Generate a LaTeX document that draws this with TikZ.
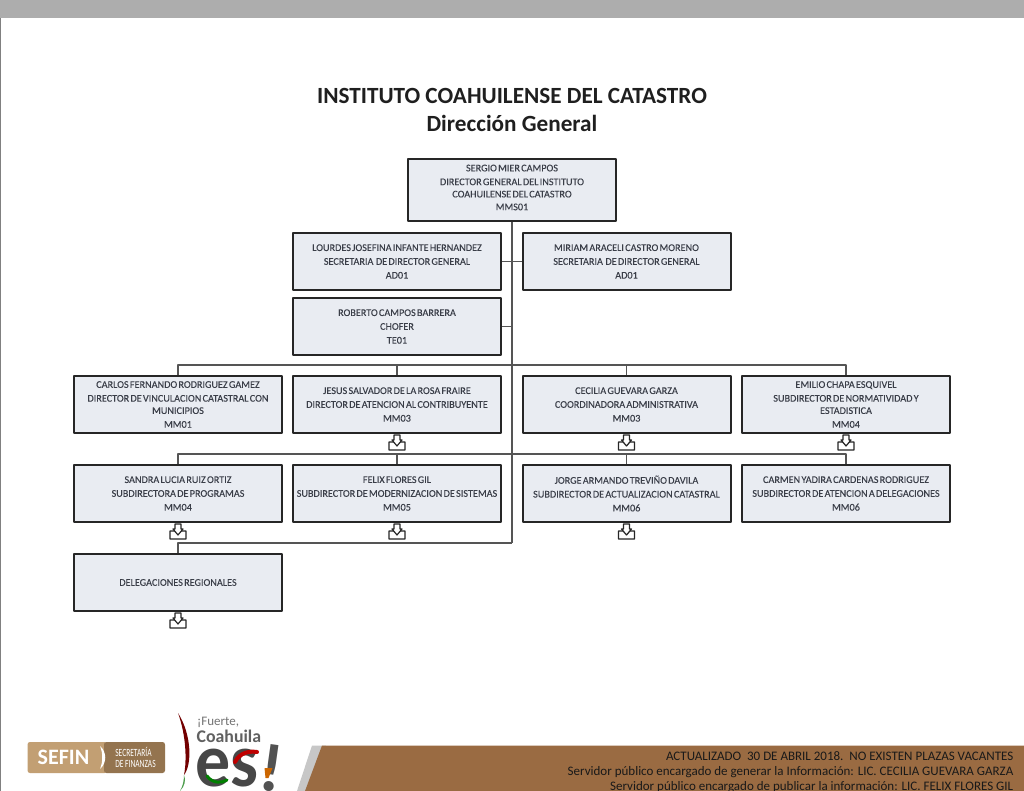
\documentclass[tikz,border=0pt]{standalone}
\usepackage{fontspec}
\setmainfont{Carlito}
\newfontfamily\cajafont[WordSpace=0.55,FakeBold=0.12]{Carlito}
\definecolor{boxfill}{HTML}{E9ECF2}
\definecolor{boxtext}{HTML}{3A3E48}
\definecolor{linegray}{HTML}{555555}
\definecolor{bandbrown}{HTML}{9A6B42}
\definecolor{sefinlight}{HTML}{C29F73}
\definecolor{sefindark}{HTML}{94744F}
\begin{document}
\begin{tikzpicture}[x=1pt,y=1pt,line join=round]
\tikzset{
puesto/.style={draw=black!85,line width=2pt,fill=boxfill,minimum width=208pt,minimum height=57pt,inner sep=0.5pt,text width=206.5pt,align=flush center,text=boxtext,font=\cajafont\fontsize{10.2}{13.8}\selectfont},
conector/.style={draw=linegray,line width=1.4pt},
baja/.pic={
\draw[black!85,line width=1.2pt,fill=white](-8,-7)--(-3,-7)--(0,-10)--(3,-7)--(8,-7)--(8,-15)--(-8,-15)--cycle;
\draw[black!85,line width=1.2pt,fill=white](-3,0)--(3,0)--(3,-5)--(5,-5)--(0,-11)--(-5,-5)--(-3,-5)--cycle;
}}
\useasboundingbox (0,0) rectangle (1024,-791);
% fondo
\fill[white] (0,0) rectangle (1024,-791);
\fill[black!32] (0,0) rectangle (1024,-18);
\draw[black!50,line width=1pt] (0.5,-18)--(0.5,-791);
% titulos
\node[font=\fontsize{23.2}{28.5}\selectfont\bfseries,text=black!88,align=center] (titulo) at (512,-110) {INSTITUTO COAHUILENSE DEL CATASTRO\\Dirección General};
% puestos
\node[puesto,minimum height=62pt] (dir) at (512,-190) {SERGIO MIER CAMPOS\\DIRECTOR GENERAL DEL INSTITUTO\\[-1.5pt]COAHUILENSE DEL CATASTRO\\[-1pt]MMS01\par\vspace{5pt}};
\node[puesto] (sec1) at (397,-261.5) {LOURDES JOSEFINA INFANTE HERNANDEZ\\SECRETARIA\ \ DE DIRECTOR GENERAL\\AD01};
\node[puesto] (sec2) at (626.5,-261.5) {MIRIAM ARACELI CASTRO MORENO\\SECRETARIA\ \ DE DIRECTOR GENERAL\\AD01};
\node[puesto] (chofer) at (397,-326.5) {ROBERTO CAMPOS BARRERA\\CHOFER\\TE01};
\node[puesto] (mm1) at (178,-404.5) {CARLOS FERNANDO RODRIGUEZ GAMEZ\\DIRECTOR DE VINCULACION CATASTRAL CON\\[-1.5pt]MUNICIPIOS\\MM01};
\node[puesto] (mm2) at (397,-404.5) {JESUS SALVADOR DE LA ROSA FRAIRE\\DIRECTOR DE ATENCION AL CONTRIBUYENTE\\MM03};
\node[puesto] (mm3) at (626.5,-404.5) {CECILIA GUEVARA GARZA\\COORDINADORA ADMINISTRATIVA\\MM03};
\node[puesto] (mm4) at (846,-404.5) {EMILIO CHAPA ESQUIVEL\\SUBDIRECTOR DE NORMATIVIDAD Y\\[-1.5pt]ESTADISTICA\\MM04};
\node[puesto] (sub1) at (178,-493.5) {SANDRA LUCIA RUIZ ORTIZ\\SUBDIRECTORA DE PROGRAMAS\\MM04};
\node[puesto] (sub2) at (397,-493.5) {FELIX FLORES GIL\\SUBDIRECTOR DE MODERNIZACION DE SISTEMAS\\MM05};
\node[puesto] (sub3) at (626.5,-493.5) {JORGE ARMANDO TREVIÑO DAVILA\\SUBDIRECTOR DE ACTUALIZACION CATASTRAL\\MM06};
\node[puesto] (sub4) at (846,-493.5) {CARMEN YADIRA CARDENAS RODRIGUEZ\\SUBDIRECTOR DE ATENCION A DELEGACIONES\\MM06};
\node[puesto] (deleg) at (178,-582.5) {DELEGACIONES REGIONALES};
% conectores
\coordinate (busA) at (512,-365);
\coordinate (busB) at (512,-454);
\coordinate (busC) at (512,-543);
\draw[conector] (dir.south)--(busC);
\draw[conector] (sec1.east)--(sec2.west);
\draw[conector] (chofer.east)--(chofer.east -| dir.south);
\foreach \n in {mm1,mm2,mm3,mm4}{
\draw[conector] (\n.north) |- (busA);
}
\foreach \n in {sub1,sub2,sub3,sub4}{
\draw[conector] (\n.north) |- (busB);
}
\draw[conector] (deleg.north) |- (busC);
% marcas de baja
\foreach \n in {mm2,mm3,mm4,sub1,sub2,sub3,deleg}{
\path (\n.south) ++(0,-1) pic{baja};
}
% banda inferior
\fill[black!22] (297,-791)--(312,-745.5)--(326,-745.5)--(311,-791)--cycle;
\fill[bandbrown] (305,-791)--(322,-745.5)--(1024,-745.5)--(1024,-791)--cycle;
\node[anchor=north east,align=right,font=\fontsize{13}{15}\selectfont,text=black!90,inner sep=0pt] (pie) at (1013.5,-751.5) {ACTUALIZADO\ \ 30 DE ABRIL 2018.\ \ NO EXISTEN PLAZAS VACANTES\\Servidor público encargado de generar la Información: LIC. CECILIA GUEVARA GARZA\\Servidor público encargado de publicar la información: LIC. FELIX FLORES GIL};
% logo SEFIN
\fill[sefinlight,rounded corners=2.5pt] (27.5,-742)--(107,-742)--(107,-773)--(27.5,-773)--cycle;
\fill[sefindark,rounded corners=2.5pt] (104,-742)--(165,-742)--(165,-773)--(104,-773)--cycle;
\fill[white] (100,-746) .. controls (107,-752) and (107,-763) .. (100,-769) .. controls (103,-762) and (103,-753) .. (100,-746)--cycle;
\node[font=\fontsize{22}{22}\selectfont\bfseries,text=white,inner sep=0pt] (sefin) at (63.5,-757.5) {SEFIN};
\node[font=\fontsize{11}{10.5}\selectfont,text=white,align=left,inner sep=0pt,xscale=0.68] (secfin) at (135.5,-757.5) {SECRETARÍA\\DE FINANZAS};
% logo Coahuila
\fill[red!45!black] (178,-713) .. controls (192,-735) and (192,-765) .. (184,-775) .. controls (187,-760) and (186,-735) .. (178,-713)--cycle;
\fill[green!45!black!70] (184,-775) .. controls (186,-780) and (185,-786) .. (180,-791) .. controls (183,-786) and (184,-780) .. (184,-775)--cycle;
\node[font=\fontsize{13}{13}\selectfont,text=black!55,anchor=west,inner sep=0pt] (fuerte) at (197,-722.5) {¡Fuerte,};
\node[font=\fontsize{17.8}{17.8}\selectfont\bfseries,text=black!62,anchor=west,inner sep=0pt] (coahuila) at (196.5,-736.5) {Coahuila};
\node[font=\fontsize{76}{76}\selectfont\bfseries,text=black!72,anchor=base west,inner sep=0pt,xscale=0.92] (es) at (195,-786) {es};
\draw[green!50!black,line width=3pt,line cap=round] (207,-776) .. controls (213,-784) and (222,-783) .. (227,-780);
\draw[red!75!black,line width=4pt,line cap=round] (235,-762) .. controls (240,-752) and (250,-751) .. (257,-752);
\node[font=\fontsize{68}{68}\selectfont\bfseries,text=black!68,anchor=base west,inner sep=0pt,rotate=-8] (excl) at (257,-789) {!};
\fill[orange!80!black] (264.5,-768) -- (272.5,-768) -- (268.5,-778) -- (265.5,-778) -- cycle;
\end{tikzpicture}
\end{document}
